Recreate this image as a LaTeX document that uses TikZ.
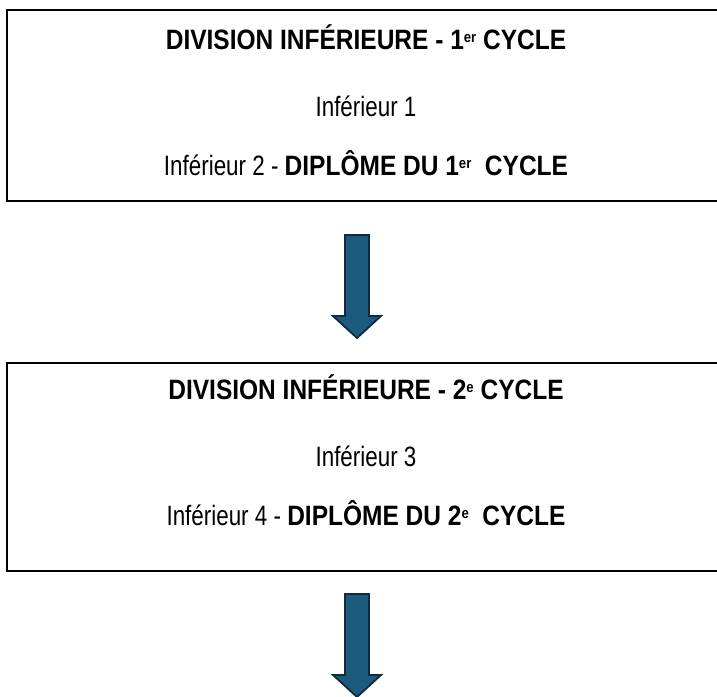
\documentclass[tikz,border=0pt]{standalone}
\usepackage{fontspec}
\setmainfont{Liberation Sans}[FakeStretch=0.80]
\newfontfamily\boldfam{Liberation Sans Bold}[FakeStretch=0.875]
\usetikzlibrary{calc}
\definecolor{arrowfill}{HTML}{1D5B7E}
\definecolor{arrowedge}{HTML}{0F2B3D}
\tikzset{
  boxframe/.style={draw=black, line width=2pt, fill=white, anchor=north west, inner sep=0pt, outer sep=0pt},
  txt/.style={font=\fontsize{28}{32}\selectfont, inner sep=0pt, anchor=base},
  bigarrow/.style={fill=arrowfill, draw=arrowedge, line width=1.8pt, line join=miter}
}
\newcommand{\sups}[1]{\raisebox{7pt}{\fontsize{15}{17}\selectfont #1}}
\newcommand{\bld}[1]{{\boldfam #1}}
\begin{document}
\begin{tikzpicture}[x=1pt,y=-1pt]
\useasboundingbox (0,0) rectangle (717,696);
% boxes (right edge lies beyond the picture)
\node[boxframe, minimum width=725pt, minimum height=191pt] (box1) at (7,10) {};
\node[boxframe, minimum width=725pt, minimum height=208pt] (box2) at (7,363) {};
% texts box 1
\node[txt] (t11) at (366,49) {\bld{DIVISION INFÉRIEURE - 1\sups{er} CYCLE}};
\node[txt] (t12) at (366,116) {Inférieur 1};
\node[txt] (t13) at (366,175) {Inférieur 2 - \bld{DIPLÔME DU 1\sups{er}\ \ CYCLE}};
% texts box 2
\node[txt] (t21) at (366,399) {\bld{DIVISION INFÉRIEURE - 2\sups{e} CYCLE}};
\node[txt] (t22) at (366,466) {Inférieur 3};
\node[txt] (t23) at (366,525) {Inférieur 4 - \bld{DIPLÔME DU 2\sups{e}\ \ CYCLE}};
% arrow 1
\coordinate (a1) at (357,235);
\draw[bigarrow] ($(a1)+(-12,0)$) -- ($(a1)+(12,0)$) -- ($(a1)+(12,81)$) -- ($(a1)+(24,81)$)
  -- ($(a1)+(0,103)$) -- ($(a1)+(-24,81)$) -- ($(a1)+(-12,81)$) -- cycle;
% arrow 2
\coordinate (a2) at (357,594);
\draw[bigarrow] ($(a2)+(-12,0)$) -- ($(a2)+(12,0)$) -- ($(a2)+(12,81)$) -- ($(a2)+(24,81)$)
  -- ($(a2)+(0,103)$) -- ($(a2)+(-24,81)$) -- ($(a2)+(-12,81)$) -- cycle;
\end{tikzpicture}
\end{document}
